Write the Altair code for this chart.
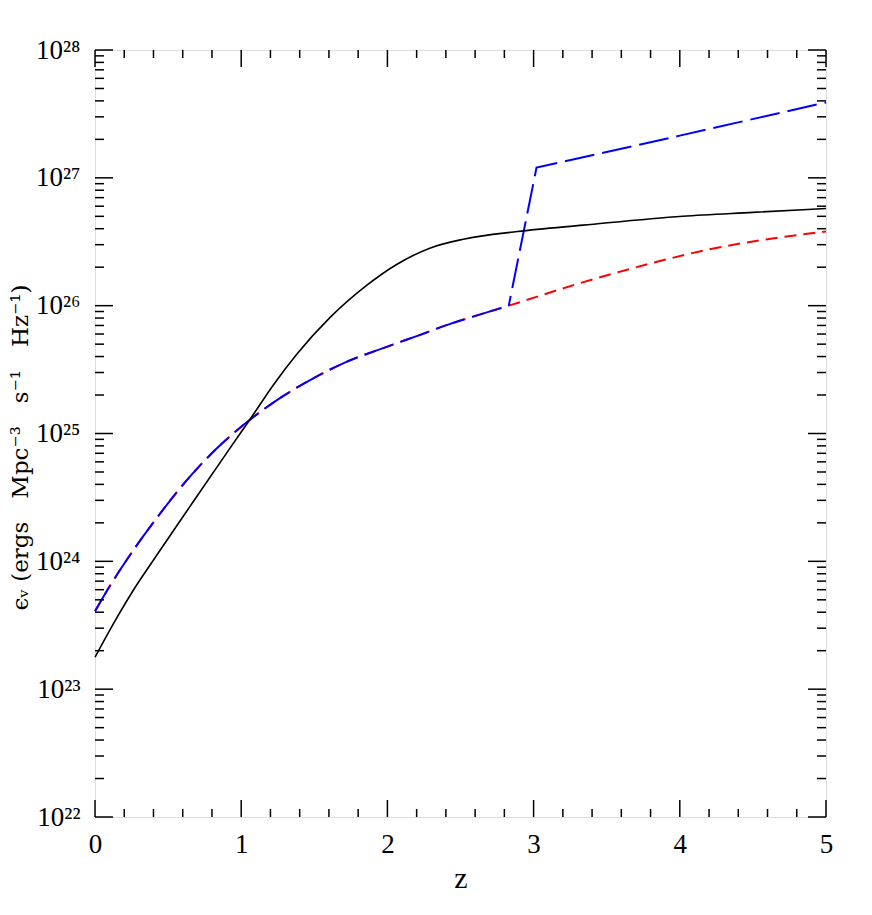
import altair as alt
import pandas as pd

# ---- data (log10 of emissivity) ----
z_black = [0, 0.14, 0.26, 0.40, 0.65, 0.92, 1.06, 1.22, 1.38, 1.61, 1.86, 2.06, 2.29, 2.52, 2.89, 3.34, 4.02, 4.5, 5.0]
log_black = [23.25, 23.54, 23.77, 24.01, 24.43, 24.88, 25.11, 25.38, 25.62, 25.91, 26.16, 26.32, 26.45, 26.52, 26.58, 26.63, 26.70, 26.73, 26.76]

z_common = [0, 0.114, 0.228, 0.41, 0.58, 0.83, 1.04, 1.27, 1.49, 1.72, 2.0, 2.22, 2.41, 2.63, 2.83]
log_common = [23.61, 23.83, 24.03, 24.32, 24.57, 24.88, 25.09, 25.28, 25.43, 25.56, 25.68, 25.77, 25.85, 25.93, 26.00]

z_red_tail = [3.3, 3.8, 4.2, 4.6, 5.0]
log_red_tail = [26.17, 26.33, 26.44, 26.52, 26.58]

z_blue_tail = [3.02, 4.0, 5.0]
log_blue_tail = [27.08, 27.33, 27.59]

x_major = [0, 1, 2, 3, 4, 5]
x_minor = [round(i * 0.2, 1) for i in range(26) if i % 5 != 0]
decades = [22, 23, 24, 25, 26, 27, 28]
mantissas = [2, 3, 4, 5, 6, 7, 8, 9]

W, H = 731, 767
FONT = "Liberation Serif"

black = pd.DataFrame({"z": z_black, "e": [10 ** v for v in log_black], "o": range(len(z_black))})
red = pd.DataFrame({"z": z_common + z_red_tail,
                    "e": [10 ** v for v in log_common + log_red_tail]})
red["o"] = range(len(red))
blue_a = pd.DataFrame({"z": z_common, "e": [10 ** v for v in log_common]})
blue_a["o"] = range(len(blue_a))
blue_b = pd.DataFrame({"z": z_common[-1:] + z_blue_tail,
                       "e": [10 ** v for v in log_common[-1:] + log_blue_tail]})
blue_b["o"] = range(len(blue_b))

xs = alt.Scale(domain=[0, 5], nice=False, zero=False)
ys = alt.Scale(type="log", domain=[1e22, 1e28], nice=False)

label_expr = "['10²²','10²³','10²⁴','10²⁵','10²⁶','10²⁷','10²⁸'][round(log(datum.value)/LN10) - 22]"

xaxis = alt.Axis(values=x_major, format="d", ticks=False, domain=False, grid=False, labelFontSize=27,
                 labelFont=FONT, labelPadding=14, labelColor="black", labelFlush=False, title="z",
                 titleFont=FONT, titleFontSize=30, titleFontWeight="normal", titleColor="black",
                 titlePadding=6)
yaxis = alt.Axis(values=[10 ** d for d in decades], labelExpr=label_expr, ticks=False, domain=False,
                 grid=False, labelFontSize=27, labelFont=FONT, labelPadding=15, labelColor="black",
                 labelBaseline="middle", labelFlush=False,
                 title="ϵᵥ (ergs\u2003Mpc⁻³\u2003s⁻¹\u2003Hz⁻¹)", titleFont="DejaVu Serif", titleFontSize=23,
                 titleFontWeight="normal", titleColor="black", titleX=-68, titleY=397,
                 titleAngle=270, titleAlign="center", titleBaseline="alphabetic")

red_line = alt.Chart(red).mark_line(color="#ff0000", strokeWidth=2, strokeDash=[12, 7],
                                    interpolate="monotone").encode(
    x=alt.X("z:Q", scale=xs, axis=xaxis),
    y=alt.Y("e:Q", scale=ys, axis=yaxis),
    order="o:Q")
blue_line_a = alt.Chart(blue_a).mark_line(color="#0000ff", strokeWidth=2, strokeDash=[30, 8],
                                          interpolate="monotone").encode(
    x=alt.X("z:Q", scale=xs), y=alt.Y("e:Q", scale=ys), order="o:Q")
blue_line_b = alt.Chart(blue_b).mark_line(color="#0000ff", strokeWidth=2, strokeDash=[30, 8],
                                          strokeDashOffset=20).encode(
    x=alt.X("z:Q", scale=xs), y=alt.Y("e:Q", scale=ys), order="o:Q")
black_line = alt.Chart(black).mark_line(color="black", strokeWidth=1.6,
                                        interpolate="monotone").encode(
    x=alt.X("z:Q", scale=xs), y=alt.Y("e:Q", scale=ys), order="o:Q")

# ---- inward ticks on all four sides ----
xt_major = pd.DataFrame({"t": x_major})
xt_minor = pd.DataFrame({"t": x_minor})
yt_major = pd.DataFrame({"t": [10 ** d for d in decades]})
yt_minor = pd.DataFrame({"t": [m * 10 ** d for d in decades[:-1] for m in mantissas]})

def xticks(df, length):
    bottom = alt.Chart(df).mark_rule(color="black", strokeWidth=1.5).encode(
        x=alt.X("t:Q", scale=xs), y=alt.value(H), y2=alt.value(H - length))
    top = alt.Chart(df).mark_rule(color="black", strokeWidth=1.5).encode(
        x=alt.X("t:Q", scale=xs), y=alt.value(0), y2=alt.value(length))
    return [bottom, top]

def yticks(df, length):
    left = alt.Chart(df).mark_rule(color="black", strokeWidth=1.5).encode(
        y=alt.Y("t:Q", scale=ys), x=alt.value(0), x2=alt.value(length))
    right = alt.Chart(df).mark_rule(color="black", strokeWidth=1.5).encode(
        y=alt.Y("t:Q", scale=ys), x=alt.value(W), x2=alt.value(W - length))
    return [left, right]

ticks = xticks(xt_major, 17) + xticks(xt_minor, 8) + yticks(yt_major, 18) + yticks(yt_minor, 9)

chart = alt.layer(red_line, blue_line_a, blue_line_b, black_line, *ticks).properties(
    width=W, height=H,
    autosize=alt.AutoSizeParams(type="none"),
    padding={"left": 87, "top": 42, "right": 20, "bottom": 80},
).configure_view(stroke="black", strokeWidth=1.8).configure(background="white")

chart.save("out.html", embed_options={"renderer": "svg", "actions": False})
